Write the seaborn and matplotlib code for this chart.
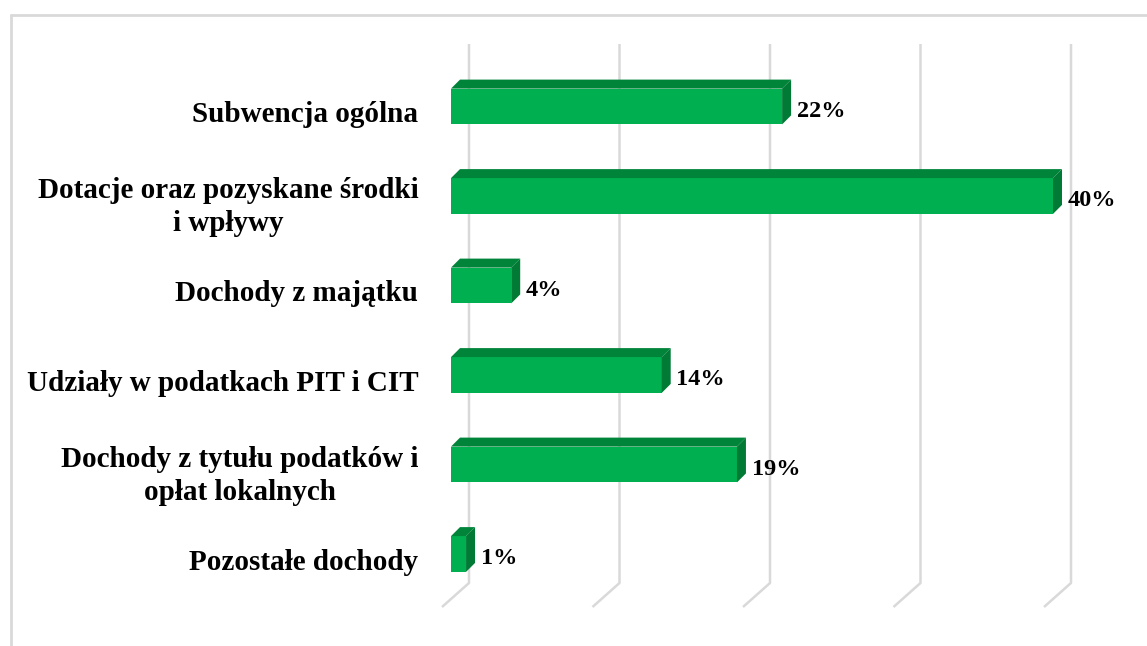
import matplotlib
matplotlib.use("Agg")
import matplotlib.pyplot as plt
import seaborn as sns
import pandas as pd
from matplotlib.patches import Polygon
from matplotlib.lines import Line2D
from matplotlib.transforms import ScaledTranslation

# ---- data ----
categories = [
    "Subwencja ogólna",
    "Dotacje oraz pozyskane środki\ni wpływy",
    "Dochody z majątku",
    "Udziały w podatkach PIT i CIT",
    "Dochody z tytułu podatków i\nopłat lokalnych",
    "Pozostałe dochody",
]
values = [22, 40, 4, 14, 19, 1]
value_labels = ["22%", "40%", "4%", "14%", "19%", "1%"]
grid_ticks = [0, 10, 20, 30, 40]

# ---- style ----
FRONT = "#00B050"
TOP = "#00843A"
SIDE = "#007A34"
GRID = "#D9D9D9"

sns.set_theme(style="white")
plt.rcParams["font.family"] = ["Liberation Serif", "DejaVu Serif"]
plt.rcParams["font.weight"] = "bold"

W, H = 1147, 646
fig = plt.figure(figsize=(W / 100, H / 100), dpi=100, facecolor="white")

# axes box in pixels
ax_left_px, ax_right_px = 451, 1128
ax_top_px, ax_bot_px = 30, 620
px_per_x = 15.05     # pixels per 1 %
px_per_cat = 89.5    # pixels per category step
first_center_px = 106.5

ax = fig.add_axes([ax_left_px / W, 1 - ax_bot_px / H,
                   (ax_right_px - ax_left_px) / W, (ax_bot_px - ax_top_px) / H])

df = pd.DataFrame({"cat": categories, "val": values})
sns.barplot(data=df, x="val", y="cat", orient="h", color=FRONT, width=0.4,
            saturation=1, linewidth=0, ax=ax, zorder=3)

xmax = (ax_right_px - ax_left_px) / px_per_x
ytop_lim = -(first_center_px - ax_top_px) / px_per_cat
ybot_lim = ytop_lim + (ax_bot_px - ax_top_px) / px_per_cat
ax.set_xlim(0, xmax)
ax.set_ylim(ybot_lim, ytop_lim)


def py(p):
    return ytop_lim + (p - ax_top_px) / px_per_cat


def dxu(p):
    return p / px_per_x


def dyu(p):
    return p / px_per_cat


# ---- 3D faces of bars ----
ddx, ddy = dxu(9), dyu(9)
for p in ax.patches:
    x0 = p.get_x()
    x1 = x0 + p.get_width()
    yt = min(p.get_y(), p.get_y() + p.get_height())
    yb = max(p.get_y(), p.get_y() + p.get_height())
    top = Polygon([(x0, yt), (x1, yt), (x1 + ddx, yt - ddy), (x0 + ddx, yt - ddy)],
                  closed=True, facecolor=TOP, edgecolor="none", zorder=3)
    side = Polygon([(x1, yt), (x1 + ddx, yt - ddy), (x1 + ddx, yb - ddy), (x1, yb)],
                   closed=True, facecolor=SIDE, edgecolor="none", zorder=3)
    ax.add_patch(top)
    ax.add_patch(side)

# ---- gridlines on back wall + floor ----
back_dx = dxu(18)
front_dx = dxu(-9)
y_wall_top = py(44)
y_floor_back = py(583)
y_floor_front = py(607)
for v in grid_ticks:
    ax.plot([v + back_dx, v + back_dx, v + front_dx],
            [y_wall_top, y_floor_back, y_floor_front],
            color=GRID, lw=1.8, zorder=1, clip_on=False, solid_capstyle="butt")

# ---- data labels ----
texts = ax.bar_label(ax.containers[0], labels=value_labels, padding=10.5,
                     fontsize=17.5, fontweight="bold", color="black")
for t in texts:
    xo, yo = t.xyann
    t.xyann = (xo, yo - 3.3)

# ---- axes cosmetics ----
ax.set_xlabel("")
ax.set_ylabel("")
ax.set_xticks([])
for s in ax.spines.values():
    s.set_visible(False)
ax.tick_params(axis="y", length=0, pad=23.5, labelsize=21, labelcolor="black")
offset = ScaledTranslation(0, -5 / 100, fig.dpi_scale_trans)
for lab in ax.get_yticklabels():
    lab.set_fontweight("bold")
    lab.set_multialignment("center")
    lab.set_linespacing(1.3)
    lab.set_transform(lab.get_transform() + offset)
ax.set_facecolor("none")

# ---- chart frame ----
fig.add_artist(Line2D([11 / W, 1], [1 - 15 / H, 1 - 15 / H], transform=fig.transFigure,
                      color=GRID, lw=2))
fig.add_artist(Line2D([11 / W, 11 / W], [0, 1 - 15 / H], transform=fig.transFigure,
                      color=GRID, lw=2))

fig.savefig("out.png", dpi=100, facecolor="white")
